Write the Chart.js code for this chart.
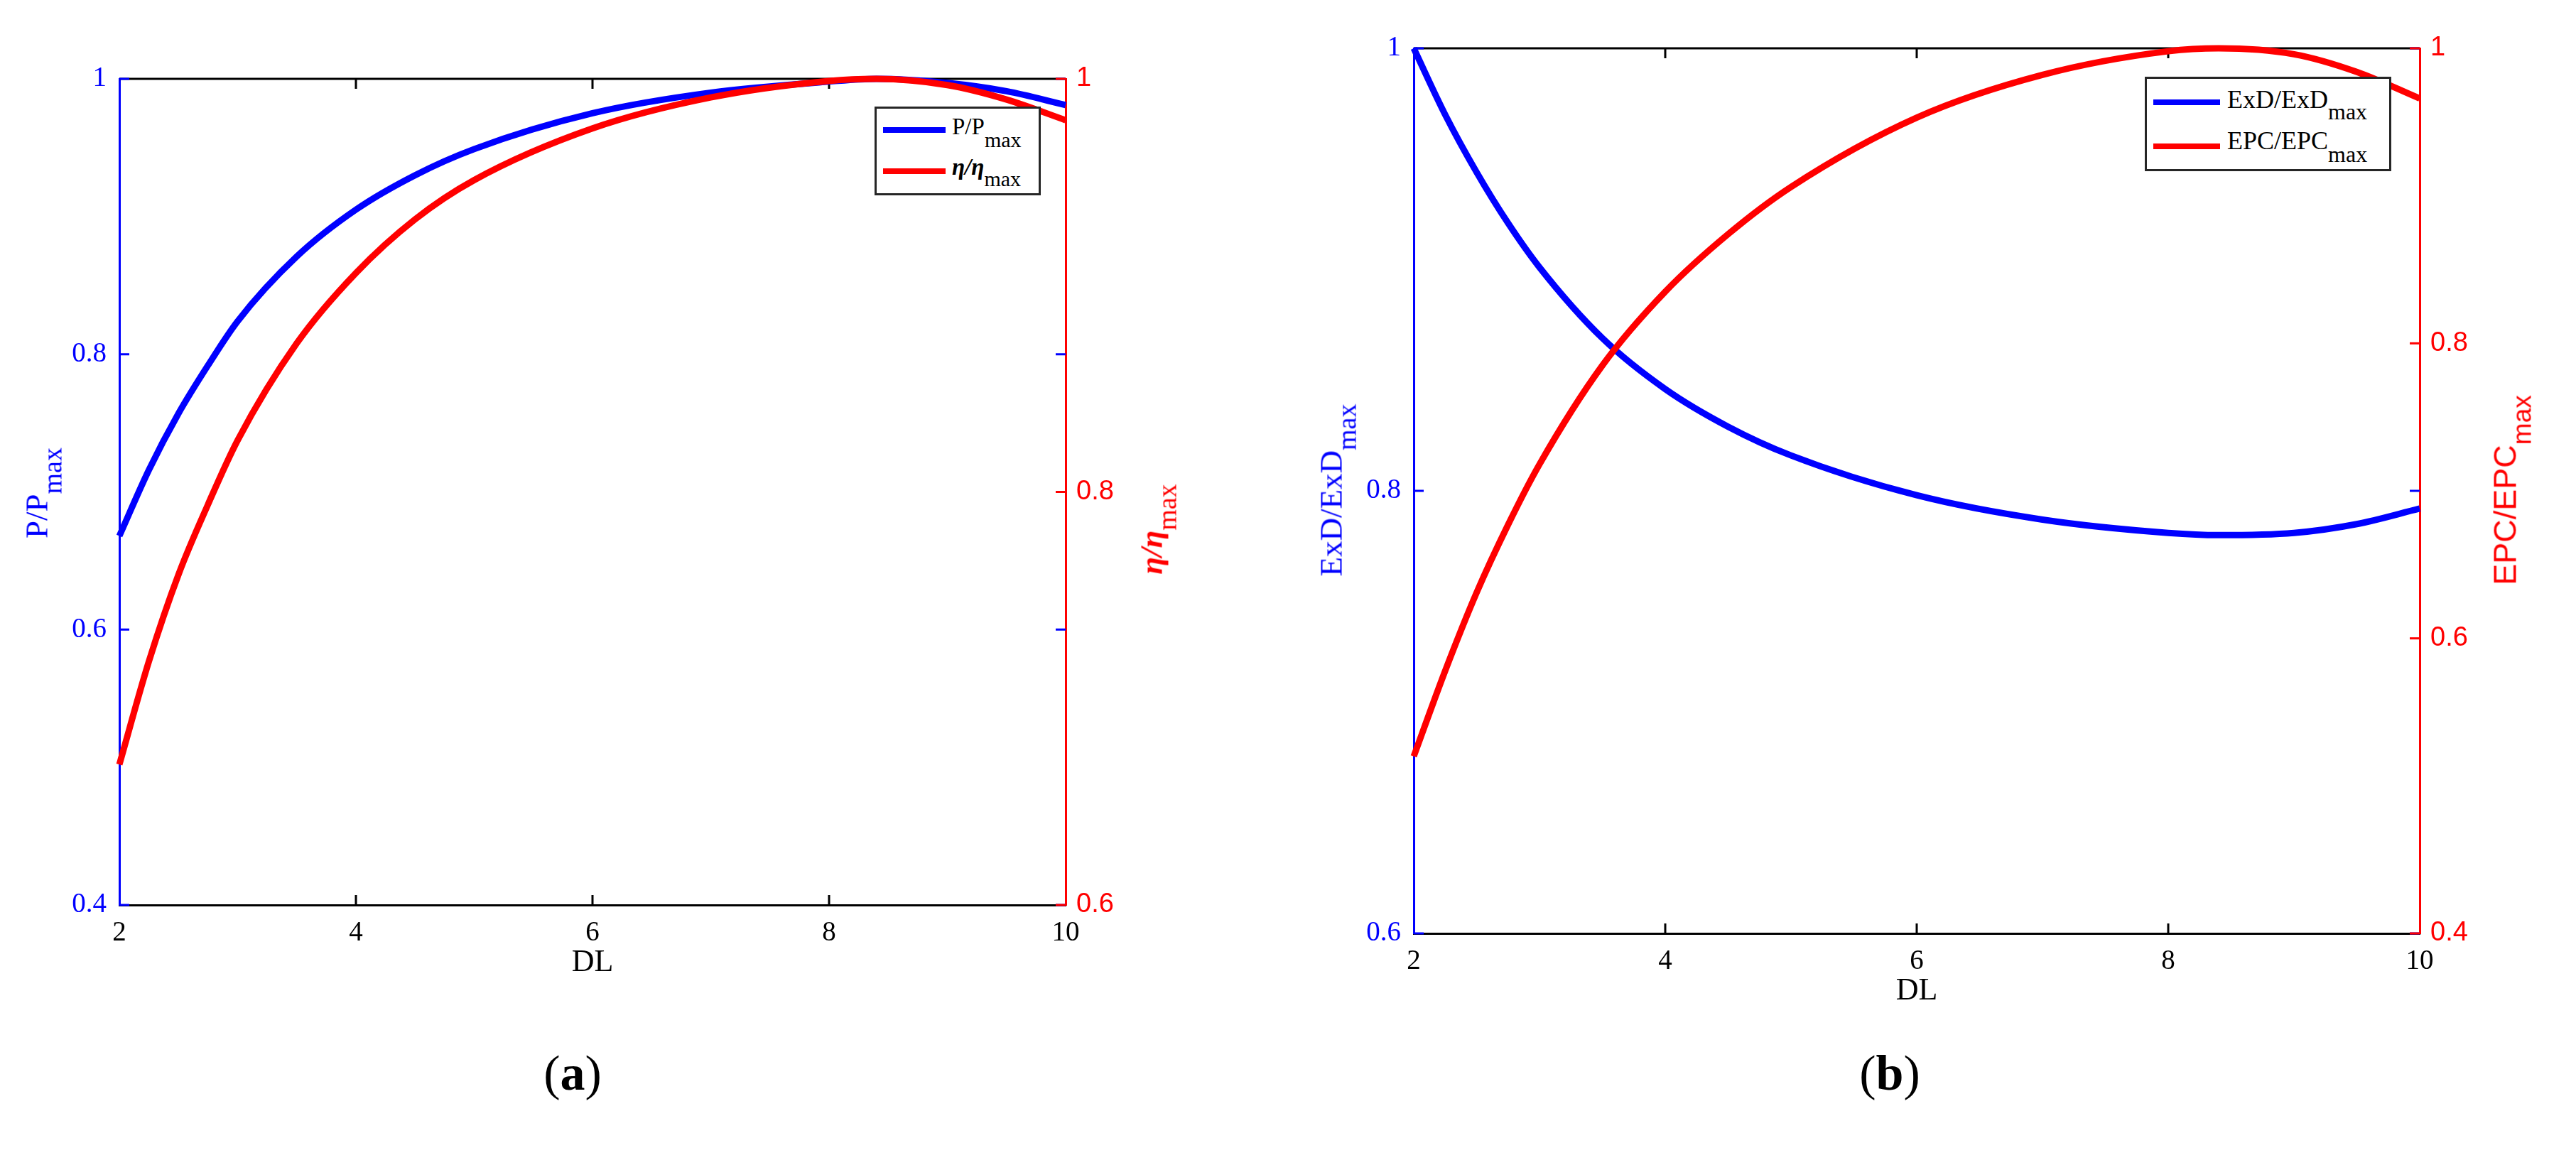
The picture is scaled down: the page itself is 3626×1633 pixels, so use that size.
<!DOCTYPE html>
<html>
<head>
<meta charset="utf-8">
<title>DL curves</title>
<script src="https://cdn.jsdelivr.net/npm/chart.js@4.4.0/dist/chart.umd.min.js"></script>
<style>
  html, body { margin: 0; padding: 0; background: #fff; }
  body { width: 3626px; height: 1633px; position: relative; overflow: hidden; }
  canvas { position: absolute; top: 0; }
  .lbl { position: absolute; white-space: nowrap; line-height: 1; }
  .legend { position: absolute; box-sizing: border-box; border: 3px solid #262626; background: #fff; }
  .sample { position: absolute; height: 8px; }
</style>
</head>
<body>
<canvas id="chartA" width="1813" height="1450" style="left:0px"></canvas>
<canvas id="chartB" width="1813" height="1450" style="left:1813px"></canvas>

<script>
// values
const dl = [2, 2.25, 2.5, 2.75, 3, 3.5, 4, 4.5, 5, 6, 7, 8, 8.4, 9, 9.5, 10];

// (a) left axis P/Pmax, right axis eta/eta_max
const powerRatio = [0.668, 0.716, 0.757, 0.792, 0.824, 0.871, 0.905, 0.930, 0.949, 0.975, 0.990, 0.998, 1.000, 0.997, 0.991, 0.981];
const effRatio   = [0.668, 0.718, 0.760, 0.794, 0.825, 0.872, 0.906, 0.932, 0.951, 0.976, 0.991, 0.999, 1.000, 0.997, 0.990, 0.980];

// (b) left axis ExD/ExDmax, right axis EPC/EPCmax
const exdRatio = [1.000, 0.970, 0.944, 0.921, 0.901, 0.869, 0.846, 0.829, 0.816, 0.798, 0.787, 0.781, 0.780, 0.781, 0.785, 0.792];
const epcRatio = [0.520, 0.578, 0.631, 0.677, 0.718, 0.785, 0.835, 0.874, 0.906, 0.953, 0.982, 0.998, 1.000, 0.996, 0.984, 0.966];

const xRange = [2, 10];
const yRangeA = [0.4, 1];
const y1RangeA = [0.6, 1];
const yRangeB = [0.6, 1];
const y1RangeB = [0.4, 1];

const BLUE = '#0000ff';
const RED = '#ff0000';
const serif = '"Liberation Serif", "Times New Roman", serif';
const sans = '"Liberation Sans", Arial, sans-serif';

const toPoints = (xs, ys) => xs.map((x, i) => ({ x: x, y: ys[i] }));
const fmt = v => String(+Number(v).toFixed(2));

// MATLAB style inward tick marks + top box line
const innerTicks = {
  id: 'innerTicks',
  beforeDatasetsDraw(chart) {
    const { ctx, chartArea: a, scales } = chart;
    const len = 14;
    ctx.save();
    ctx.lineWidth = 3;
    ctx.strokeStyle = '#000';
    ctx.beginPath();
    ctx.moveTo(a.left, a.top);
    ctx.lineTo(a.right, a.top);
    ctx.stroke();
    scales.x.ticks.forEach(t => {
      if (t.value <= scales.x.min || t.value >= scales.x.max) return;
      const px = scales.x.getPixelForValue(t.value);
      ctx.beginPath();
      ctx.moveTo(px, a.bottom); ctx.lineTo(px, a.bottom - len);
      ctx.moveTo(px, a.top); ctx.lineTo(px, a.top + len);
      ctx.stroke();
    });
    ctx.strokeStyle = BLUE;
    scales.y.ticks.forEach(t => {
      const py = scales.y.getPixelForValue(t.value);
      ctx.beginPath();
      ctx.moveTo(a.left, py); ctx.lineTo(a.left + len, py);
      ctx.moveTo(a.right, py); ctx.lineTo(a.right - len, py);
      ctx.stroke();
    });
    ctx.strokeStyle = RED;
    scales.y1.ticks.forEach(t => {
      const py = scales.y1.getPixelForValue(t.value);
      ctx.beginPath();
      ctx.moveTo(a.right, py); ctx.lineTo(a.right - len, py);
      ctx.stroke();
    });
    ctx.restore();
  }
};

function buildChart(id, o) {
  return new Chart(document.getElementById(id), {
    type: 'line',
    data: {
      datasets: [
        { label: o.leftName, data: toPoints(dl, o.leftData), borderColor: BLUE, yAxisID: 'y', order: 1, clip: false },
        { label: o.rightName, data: toPoints(dl, o.rightData), borderColor: RED, yAxisID: 'y1', order: 0, clip: false }
      ]
    },
    options: {
      responsive: false,
      animation: false,
      layout: { padding: { top: o.top, left: 0, right: 0, bottom: 0 } },
      elements: {
        point: { radius: 0 },
        line: { borderWidth: 9, cubicInterpolationMode: 'monotone', fill: false, borderCapStyle: 'butt' }
      },
      plugins: { legend: { display: false }, tooltip: { enabled: false } },
      scales: {
        x: {
          type: 'linear', min: xRange[0], max: xRange[1],
          ticks: { stepSize: 2, color: '#000', font: { family: serif, size: 39 }, padding: 16, maxRotation: 0, autoSkip: false },
          grid: { drawOnChartArea: false, drawTicks: false },
          border: { color: '#000', width: 3 },
          title: { display: true, text: 'DL', color: '#000', font: { family: serif, size: 44 }, padding: { top: 0, bottom: o.dlPad } },
          afterFit: s => { s.height = o.xHeight; }
        },
        y: {
          position: 'left', min: o.yRange[0], max: o.yRange[1],
          ticks: { stepSize: 0.2, color: BLUE, font: { family: serif, size: 39 }, padding: 18, callback: fmt },
          grid: { drawOnChartArea: false, drawTicks: false },
          border: { color: BLUE, width: 3 },
          afterFit: s => { s.width = o.leftWidth; }
        },
        y1: {
          position: 'right', min: o.y1Range[0], max: o.y1Range[1],
          ticks: { stepSize: 0.2, color: RED, font: { family: sans, size: 38 }, padding: 15, callback: fmt },
          grid: { drawOnChartArea: false, drawTicks: false },
          border: { color: RED, width: 3 },
          afterFit: s => { s.width = o.rightWidth; }
        }
      }
    },
    plugins: [innerTicks]
  });
}

buildChart('chartA', {
  leftName: 'P/Pmax', rightName: 'η/ηmax',
  leftData: powerRatio, rightData: effRatio,
  yRange: yRangeA, y1Range: y1RangeA,
  top: 111, leftWidth: 168, rightWidth: 313, xHeight: 176, dlPad: 68
});

buildChart('chartB', {
  leftName: 'ExD/ExDmax', rightName: 'EPC/EPCmax',
  leftData: exdRatio, rightData: epcRatio,
  yRange: yRangeB, y1Range: y1RangeB,
  top: 68, leftWidth: 177, rightWidth: 220, xHeight: 136, dlPad: 28
});

// text with subscripts placed by its baseline
function addText(parts, o) {
  const div = document.createElement('div');
  div.className = 'lbl';
  div.style.fontFamily = o.family;
  div.style.fontSize = o.size + 'px';
  div.style.color = o.color;
  parts.forEach(p => {
    const s = document.createElement('span');
    s.textContent = p.text;
    if (p.size) s.style.fontSize = p.size + 'px';
    if (p.dy) { s.style.position = 'relative'; s.style.top = p.dy + 'px'; }
    if (p.css) s.style.cssText += p.css;
    div.appendChild(s);
  });
  document.body.appendChild(div);
  const base = o.size * (o.family === sans ? 0.8465 : 0.8375);
  if (o.rotate) {
    div.style.left = (o.x - (base - o.size / 2)) + 'px';
    div.style.top = o.y + 'px';
    div.style.transform = 'translate(-50%, -50%) rotate(-90deg)';
  } else if (o.center) {
    div.style.left = o.x + 'px';
    div.style.top = (o.y - base) + 'px';
    div.style.transform = 'translateX(-50%)';
  } else {
    div.style.left = o.x + 'px';
    div.style.top = (o.y - base) + 'px';
  }
  return div;
}

const etaCss = 'font-weight:bold;font-style:italic;';

// axis titles
addText([{ text: 'P/P' }, { text: 'max', size: 38, dy: 20 }], { family: serif, size: 45, color: BLUE, rotate: true, x: 67, y: 694 });
addText([{ text: 'η/η', css: etaCss }, { text: 'max', size: 38, dy: 20 }], { family: serif, size: 45, color: RED, rotate: true, x: 1636, y: 745 });
addText([{ text: 'ExD/ExD' }, { text: 'max', size: 38, dy: 20 }], { family: serif, size: 45, color: BLUE, rotate: true, x: 1889, y: 690 });
addText([{ text: 'EPC/EPC' }, { text: 'max', size: 37, dy: 21 }], { family: sans, size: 45, color: RED, rotate: true, x: 3542, y: 690 });

// legends
function addLegend(box, entries) {
  const d = document.createElement('div');
  d.className = 'legend';
  d.style.left = box.x + 'px';
  d.style.top = box.y + 'px';
  d.style.width = box.w + 'px';
  d.style.height = box.h + 'px';
  document.body.appendChild(d);
  entries.forEach(e => {
    const l = document.createElement('div');
    l.className = 'sample';
    l.style.background = e.color;
    l.style.left = e.x0 + 'px';
    l.style.width = (e.x1 - e.x0) + 'px';
    l.style.top = (e.ly - 4) + 'px';
    document.body.appendChild(l);
    addText(e.parts, { family: serif, size: e.size, color: '#000', x: e.tx, y: e.ty });
  });
}

addLegend({ x: 1231, y: 150, w: 234, h: 125 }, [
  { color: BLUE, x0: 1243, x1: 1331, ly: 183, tx: 1340, ty: 190, size: 33, parts: [{ text: 'P/P' }, { text: 'max', size: 30, dy: 18 }] },
  { color: RED, x0: 1243, x1: 1331, ly: 241, tx: 1340, ty: 247, size: 33, parts: [{ text: 'η/η', css: etaCss }, { text: 'max', size: 30, dy: 16 }] }
]);

addLegend({ x: 3019, y: 108, w: 347, h: 133 }, [
  { color: BLUE, x0: 3031, x1: 3125, ly: 144, tx: 3135, ty: 152, size: 36, parts: [{ text: 'ExD/ExD' }, { text: 'max', size: 32, dy: 16 }] },
  { color: RED, x0: 3031, x1: 3125, ly: 206, tx: 3135, ty: 210, size: 36, parts: [{ text: 'EPC/EPC' }, { text: 'max', size: 32, dy: 18 }] }
]);

// panel captions
addText([{ text: '(' }, { text: 'a', css: 'font-weight:bold;' }, { text: ')' }], { family: serif, size: 70, color: '#000', center: true, x: 806, y: 1535 });
addText([{ text: '(' }, { text: 'b', css: 'font-weight:bold;' }, { text: ')' }], { family: serif, size: 70, color: '#000', center: true, x: 2660, y: 1535 });
</script>
</body>
</html>
